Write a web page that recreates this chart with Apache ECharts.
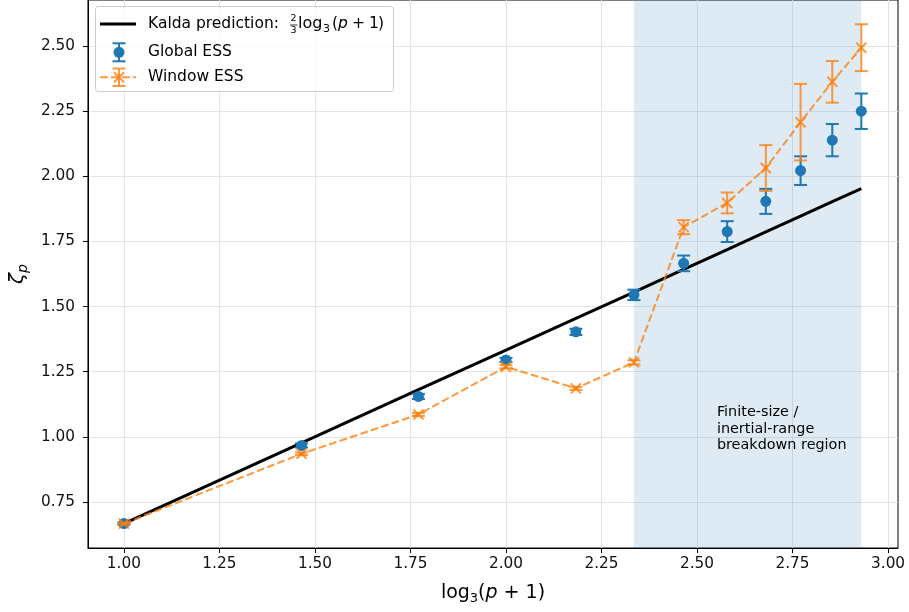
<!DOCTYPE html>
<html>
<head>
<meta charset="utf-8">
<script src="https://cdn.jsdelivr.net/npm/echarts@6/dist/echarts.min.js"></script>
<style>
html, body { margin: 0; padding: 0; background: #fff; }
#chart { width: 909px; height: 612px; }
</style>
</head>
<body>
<div id="chart"></div>
<script>
// log3(p+1) for p = 2, 4, 6, ... 24
const xVals = [1.000, 1.465, 1.771, 2.000, 2.183, 2.335, 2.465, 2.579, 2.680, 2.771, 2.854, 2.930];
const kaldaVals = [0.667, 0.977, 1.181, 1.333, 1.455, 1.556, 1.643, 1.719, 1.787, 1.847, 1.903, 1.953];
const globalVals = [0.667, 0.967, 1.155, 1.295, 1.403, 1.545, 1.666, 1.788, 1.904, 2.022, 2.139, 2.250];
const globalErr = [0.004, 0.008, 0.010, 0.008, 0.012, 0.020, 0.030, 0.040, 0.048, 0.055, 0.062, 0.068];
const windowVals = [0.667, 0.935, 1.086, 1.269, 1.186, 1.286, 1.805, 1.898, 2.032, 2.208, 2.363, 2.494];
const windowErr = [0.003, 0.005, 0.006, 0.006, 0.006, 0.008, 0.027, 0.040, 0.088, 0.147, 0.080, 0.090];
const xTicks = [1.00, 1.25, 1.50, 1.75, 2.00, 2.25, 2.50, 2.75, 3.00];
const yTicks = [0.75, 1.00, 1.25, 1.50, 1.75, 2.00, 2.25, 2.50];
const shadeRange = [2.3347, 2.9299];

const blue = '#1f77b4';
const orange = 'rgba(255,127,14,0.8)';
const font = 'DejaVu Sans';

const chart = echarts.init(document.getElementById('chart'));

function errorBars(color, marker) {
    return function (params, api) {
        const x = api.value(0), y = api.value(1), e = api.value(2);
        const top = api.coord([x, y + e]);
        const bot = api.coord([x, y - e]);
        const c = api.coord([x, y]);
        const cap = 6.5;
        const st = { stroke: color, lineWidth: 2, fill: null };
        const kids = [
            { type: 'line', shape: { x1: top[0], y1: top[1], x2: bot[0], y2: bot[1] }, style: st },
            { type: 'line', shape: { x1: top[0] - cap, y1: top[1], x2: top[0] + cap, y2: top[1] }, style: st },
            { type: 'line', shape: { x1: bot[0] - cap, y1: bot[1], x2: bot[0] + cap, y2: bot[1] }, style: st }
        ];
        if (marker === 'circle') {
            kids.push({ type: 'circle', shape: { cx: c[0], cy: c[1], r: 5.5 }, style: { fill: color } });
        } else {
            const s = 5;
            kids.push({ type: 'line', shape: { x1: c[0] - s, y1: c[1] - s, x2: c[0] + s, y2: c[1] + s }, style: st });
            kids.push({ type: 'line', shape: { x1: c[0] - s, y1: c[1] + s, x2: c[0] + s, y2: c[1] - s }, style: st });
        }
        return { type: 'group', children: kids };
    };
}

const axisCommon = {
    type: 'value',
    axisLine: { show: true, onZero: false, lineStyle: { color: '#000', width: 1 } },
    splitLine: { show: true, lineStyle: { color: '#e4e4e4', width: 1 } }
};

chart.setOption({
    animation: false,
    grid: { left: 87, right: 11, top: -2, bottom: 64, show: true, borderColor: '#000', borderWidth: 1 },
    xAxis: Object.assign({}, axisCommon, {
        min: 0.906, max: 3.026,
        axisTick: { show: true, length: 5, customValues: xTicks, lineStyle: { color: '#000' } },
        axisLabel: { customValues: xTicks, formatter: v => v.toFixed(2), margin: 9, fontSize: 15.3, color: '#111', fontFamily: font },
        name: '{r|log}{s|3}{r|(}{i|p}{r| + 1)}',
        nameLocation: 'middle',
        nameGap: 33,
        nameTextStyle: {
            rich: {
                r: { fontSize: 19, fontFamily: font, color: '#000', lineHeight: 24 },
                i: { fontSize: 19, fontFamily: font, fontStyle: 'italic', color: '#000', lineHeight: 24 },
                s: { fontSize: 13, fontFamily: font, color: '#000', lineHeight: 10, verticalAlign: 'bottom' }
            }
        }
    }),
    yAxis: Object.assign({}, axisCommon, {
        min: 0.5733, max: 2.677,
        axisTick: { show: true, length: 5, customValues: yTicks, lineStyle: { color: '#000' } },
        axisLabel: { customValues: yTicks, formatter: v => v.toFixed(2), margin: 13, fontSize: 15.3, color: '#111', fontFamily: font },
        name: '{z|ζ}{p|p}',
        nameLocation: 'middle',
        nameRotate: 90,
        nameGap: 50,
        nameTextStyle: {
            rich: {
                z: { fontSize: 20, fontFamily: font, fontStyle: 'italic', color: '#000', lineHeight: 24 },
                p: { fontSize: 14, fontFamily: font, fontStyle: 'italic', color: '#000', lineHeight: 14, verticalAlign: 'bottom' }
            }
        }
    }),
    series: [
        {
            type: 'line', data: [], silent: true, z: 1,
            markArea: {
                silent: true,
                itemStyle: { color: 'rgba(31,119,180,0.15)' },
                data: [[{ xAxis: shadeRange[0] }, { xAxis: shadeRange[1] }]]
            }
        },
        {
            name: 'Kalda', type: 'line', symbol: 'none', z: 2,
            data: xVals.map((x, i) => [x, kaldaVals[i]]),
            lineStyle: { color: '#000', width: 3 }
        },
        {
            name: 'Global ESS', type: 'custom', z: 3,
            renderItem: errorBars(blue, 'circle'),
            data: xVals.map((x, i) => [x, globalVals[i], globalErr[i]])
        },
        {
            name: 'Window ESS line', type: 'line', symbol: 'none', z: 4,
            data: xVals.map((x, i) => [x, windowVals[i]]),
            lineStyle: { color: orange, width: 2, type: [7.7, 3.3] }
        },
        {
            name: 'Window ESS', type: 'custom', z: 5,
            renderItem: errorBars(orange, 'x'),
            data: xVals.map((x, i) => [x, windowVals[i], windowErr[i]])
        }
    ]
});

// legend and annotation
const txt = (x, y, text, size, italic, extra) => ({
    type: 'text', x: x, y: y,
    style: Object.assign({
        text: text,
        font: (italic ? 'italic ' : '') + (size || 15.5) + 'px "DejaVu Sans"',
        fill: '#000', verticalAlign: 'middle'
    }, extra || {})
});
const ln = (x1, y1, x2, y2, stroke, w, dash) => ({
    type: 'line', shape: { x1, y1, x2, y2 },
    style: { stroke: stroke, lineWidth: w, lineDash: dash || null }
});

const legend = [
    { type: 'rect', shape: { x: 95.5, y: 6.5, width: 298, height: 85, r: 3 }, style: { fill: 'rgba(255,255,255,0.8)', stroke: '#cccccc', lineWidth: 1 } },
    ln(100, 24, 136, 24, '#000', 3),
    txt(148, 24, 'Kalda prediction:'),
    txt(290.5, 19, '2', 9.5),
    ln(290, 25, 297.5, 25, '#000', 0.8),
    txt(290.5, 31, '3', 9.5),
    txt(298, 24, 'log', 16),
    txt(323, 29, '3', 11),
    txt(332, 24, '('),
    txt(338, 24, 'p', 15.5, true),
    txt(352, 24, '+'),
    txt(369, 24, '1'),
    txt(378, 24, ')'),
    // Global ESS
    ln(119, 43.3, 119, 61.3, blue, 2),
    ln(112.5, 43.3, 125.5, 43.3, blue, 2),
    ln(112.5, 61.3, 125.5, 61.3, blue, 2),
    { type: 'circle', shape: { cx: 119, cy: 52.3, r: 5.5 }, style: { fill: blue } },
    txt(148, 52.3, 'Global ESS'),
    // Window ESS
    ln(100, 77.3, 136, 77.3, orange, 2, [7.7, 3.3]),
    ln(119, 68.5, 119, 86, orange, 2),
    ln(112.5, 68.5, 125.5, 68.5, orange, 2),
    ln(112.5, 86, 125.5, 86, orange, 2),
    ln(114, 72.3, 124, 82.3, orange, 2),
    ln(114, 82.3, 124, 72.3, orange, 2),
    txt(148, 77.3, 'Window ESS')
];

const notePos = chart.convertToPixel({ gridIndex: 0 }, [2.552, 1.031]);
const note = txt(notePos[0], notePos[1], 'Finite-size /\ninertial-range\nbreakdown region', 14.4, false, { lineHeight: 16.5 });

chart.setOption({
    graphic: { elements: legend.map(e => Object.assign({ z: 100 }, e)).concat([Object.assign({ z: 50 }, note)]) }
});
</script>
</body>
</html>
